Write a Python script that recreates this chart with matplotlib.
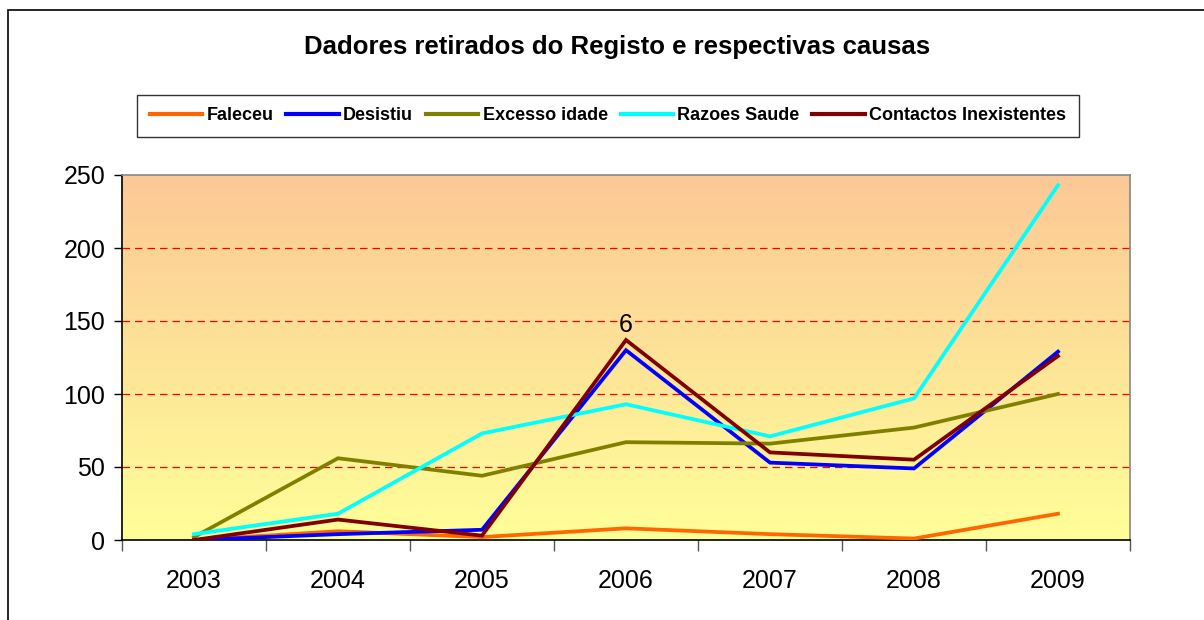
import numpy as np
import matplotlib
matplotlib.use("agg")
import matplotlib.pyplot as plt
from matplotlib.colors import LinearSegmentedColormap
from matplotlib.patches import Rectangle

plt.rcParams['font.family'] = ['Liberation Sans', 'DejaVu Sans']

anos = ['2003', '2004', '2005', '2006', '2007', '2008', '2009']
faleceu = [0, 6, 2, 8, 4, 1, 18]
desistiu = [0, 4, 7, 130, 53, 49, 129]
excesso_idade = [2, 56, 44, 67, 66, 77, 100]
razoes_saude = [4, 18, 73, 93, 71, 97, 243]
contactos_inexistentes = [0, 14, 3, 137, 60, 55, 126]

series = [
    ("Faleceu", faleceu, "#FF6600"),
    ("Desistiu", desistiu, "#0000FF"),
    ("Excesso idade", excesso_idade, "#808000"),
    ("Razoes Saude", razoes_saude, "#00FFFF"),
    ("Contactos Inexistentes", contactos_inexistentes, "#800000"),
]

fig = plt.figure(figsize=(12.04, 6.2), dpi=100)
fig.patches.append(Rectangle((8/1204, -0.1), 1.2, (620-10)/620 + 0.1,
                             transform=fig.transFigure, fill=False,
                             edgecolor='black', linewidth=1.2))

ax = fig.add_axes([122/1204, 80/620, 1008/1204, 365/620])
x = np.arange(len(anos))

# background gradient: peach on top fading to pale yellow
grad = LinearSegmentedColormap.from_list("bg", ["#FFFF99", "#FCC896"])
ax.imshow(np.linspace(0, 1, 256).reshape(-1, 1), cmap=grad, origin='lower',
          aspect='auto', extent=[-0.5, 6.5, 0, 250], zorder=0)

for yv in [50, 100, 150, 200]:
    ax.axhline(yv, color='#FF0000', linestyle=(0, (6, 4)), linewidth=0.9, zorder=1)

for nome, vals, cor in series:
    ax.plot(x, vals, color=cor, linewidth=2.7, label=nome, zorder=3,
            solid_joinstyle='miter')

ax.text(3, contactos_inexistentes[3] + 2, "6", ha='center', va='bottom',
        fontsize=18, zorder=4)

ax.set_xlim(-0.5, 6.5)
ax.set_ylim(0, 250)
ax.set_yticks([0, 50, 100, 150, 200, 250])
ax.tick_params(axis='y', labelsize=18, length=6, width=1, pad=6)
ax.set_xticks(np.arange(-0.5, 7, 1))
ax.set_xticklabels([])
ax.tick_params(axis='x', which='major', length=8, width=1, color='#555555')
ax.set_xticks(x, minor=True)
ax.set_xticklabels(anos, minor=True)
ax.tick_params(axis='x', which='minor', length=0, labelsize=18, pad=21)

ax.spines['left'].set_color('black')
ax.spines['bottom'].set_color('black')
ax.spines['top'].set_color('#888888')
ax.spines['right'].set_color('#888888')
for s in ax.spines.values():
    s.set_linewidth(1.2)

fig.text(617/1204, (620-47)/620, "Dadores retirados do Registo e respectivas causas",
         ha='center', va='center', fontsize=18.5, fontweight='bold')

leg = fig.legend(loc='center', bbox_to_anchor=(608/1204, (620-116)/620),
                 ncol=5, frameon=True, fancybox=False, edgecolor='black',
                 handlelength=2.9, handletextpad=0.25, columnspacing=0.7,
                 borderpad=0.7, borderaxespad=0,
                 prop={'size': 13, 'weight': 'bold'})
leg.get_frame().set_linewidth(1.0)
for line in leg.get_lines():
    line.set_linewidth(3)

fig.savefig("out.png", dpi=100)
